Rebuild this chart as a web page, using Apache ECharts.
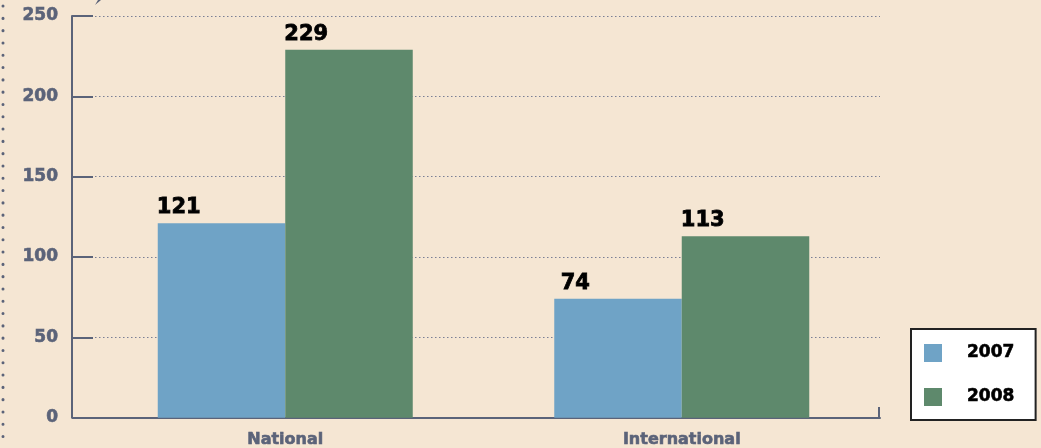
<!DOCTYPE html>
<html>
<head>
<meta charset="utf-8">
<script src="https://cdn.jsdelivr.net/npm/echarts@6/dist/echarts.min.js"></script>
<style>
  html, body { margin: 0; padding: 0; background: #f5e6d3; }
</style>
</head>
<body>
<div id="myChartBar" style="width: 1041px; height: 448px;"></div>
<script>
  // chart data
  var categories = ['National', 'International'];
  var data2007 = [121, 74];
  var data2008 = [229, 113];
  var seriesNames = ['2007', '2008'];
  var yTicks = [0, 50, 100, 150, 200, 250];

  var axisColor = '#5b6379';
  var fontName = 'DejaVu Sans';

  var myChart = echarts.init(document.getElementById('myChartBar'));

  // value labels above the bar, a bit right of its left edge
  var barLabel = {
    show: true,
    position: [21, -5],
    align: 'center',
    verticalAlign: 'bottom',
    color: '#000',
    fontFamily: fontName,
    fontWeight: 'bold',
    fontSize: 21,
    textBorderColor: '#000',
    textBorderWidth: 0.8
  };

  myChart.setOption({
    backgroundColor: '#f5e6d3',
    animation: false,
    grid: { left: 87, right: 161, top: 16, bottom: 30 },
    legend: {
      orient: 'vertical',
      left: 911,
      top: 329,
      data: seriesNames,
      icon: 'rect',
      itemWidth: 18,
      itemHeight: 18,
      itemGap: 26,
      padding: [15, 21, 14, 13],
      backgroundColor: '#fff',
      borderColor: '#222',
      borderWidth: 2,
      borderRadius: 0,
      textStyle: {
        color: '#000',
        fontFamily: fontName,
        fontWeight: 'bold',
        fontSize: 17,
        padding: [0, 0, 0, 20],
        textBorderColor: '#000',
        textBorderWidth: 0.6
      }
    },
    xAxis: {
      type: 'category',
      data: categories,
      axisLine: { show: true, lineStyle: { color: axisColor, width: 2 } },
      axisTick: { show: false },
      splitLine: { show: false },
      axisLabel: {
        color: axisColor,
        fontFamily: fontName,
        fontWeight: 'bold',
        fontSize: 16,
        margin: 14,
        textBorderColor: axisColor,
        textBorderWidth: 0.6
      }
    },
    yAxis: {
      type: 'value',
      min: yTicks[0],
      max: yTicks[yTicks.length - 1],
      interval: yTicks[1] - yTicks[0],
      offset: 15,
      axisLine: { show: true, lineStyle: { color: axisColor, width: 2 } },
      axisTick: { show: true, inside: true, length: 21, lineStyle: { color: axisColor, width: 2 } },
      splitLine: { show: true, lineStyle: { color: '#7a7f95', width: 1, type: [1.5, 2.5] } },
      axisLabel: {
        color: axisColor,
        fontFamily: fontName,
        fontWeight: 'bold',
        fontSize: 17,
        margin: 14,
        padding: [4, 0, 0, 0],
        textBorderColor: axisColor,
        textBorderWidth: 0.6
      }
    },
    series: [
      {
        name: seriesNames[0],
        type: 'bar',
        data: data2007,
        barWidth: 127.5,
        barGap: '0%',
        itemStyle: { color: '#6fa3c6' },
        label: barLabel
      },
      {
        name: seriesNames[1],
        type: 'bar',
        data: data2008,
        barWidth: 127.5,
        barGap: '0%',
        itemStyle: { color: '#5e896c' },
        label: barLabel
      }
    ],
    graphic: [
      // dotted border on the far left
      {
        type: 'line',
        shape: { x1: 3, y1: 6, x2: 3, y2: 448 },
        style: { stroke: axisColor, lineWidth: 3, lineDash: [0.1, 12.2], lineCap: 'round' },
        silent: true
      },
      // small piece of the axis between y axis and grid start
      {
        type: 'line',
        shape: { x1: 72, y1: 418, x2: 88, y2: 418 },
        style: { stroke: axisColor, lineWidth: 2 },
        silent: true
      },
      // closing tick at the right end of the x axis
      {
        type: 'line',
        shape: { x1: 879, y1: 407, x2: 879, y2: 419 },
        style: { stroke: axisColor, lineWidth: 2 },
        silent: true
      },
      // tiny arrow fragment at the top
      {
        type: 'polygon',
        shape: { points: [[95, 5], [101, 0], [98, 0]] },
        style: { fill: axisColor },
        silent: true
      }
    ]
  });
</script>
</body>
</html>
